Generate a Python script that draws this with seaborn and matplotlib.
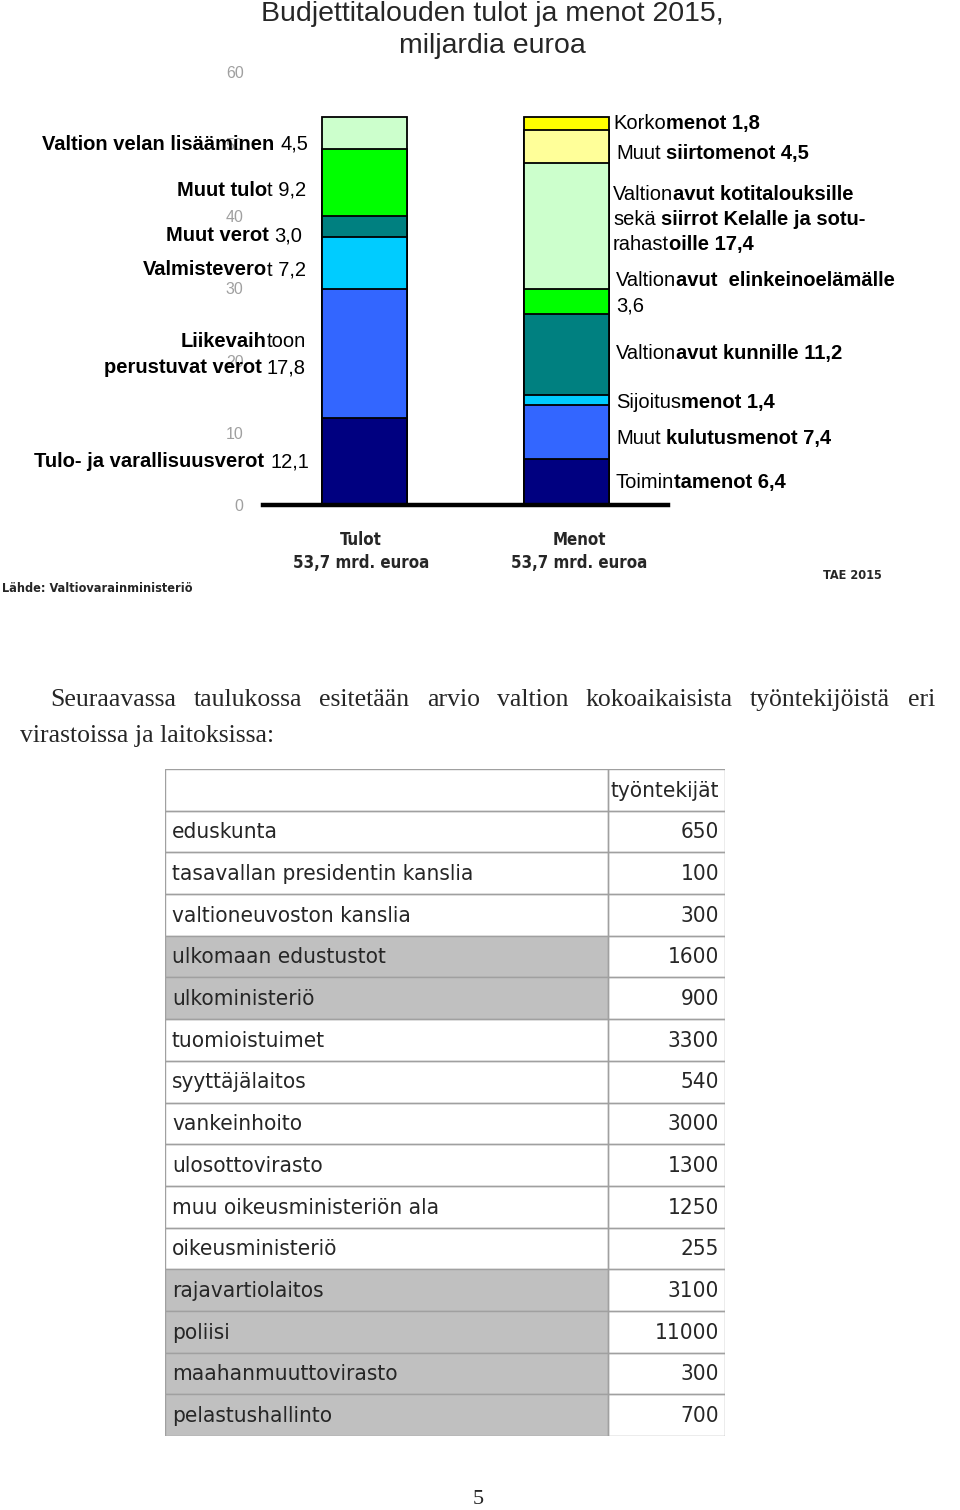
import os
import matplotlib
matplotlib.use("Agg")
import matplotlib.pyplot as plt
from matplotlib import font_manager as fm
from matplotlib.font_manager import FontProperties
from matplotlib.patches import Rectangle
import numpy as np
import pandas as pd
import seaborn as sns

# ---------------- data ----------------
bar_names = ["Tulot", "Menot"]
income_values = [12.1, 17.8, 7.2, 3.0, 9.2, 4.5]
income_colors = ["#000080", "#3366FF", "#00CCFF", "#008080", "#00FF00", "#CCFFCC"]
expense_values = [6.4, 7.4, 1.4, 11.2, 3.6, 17.4, 4.5, 1.8]
expense_colors = ["#000080", "#3366FF", "#00CCFF", "#008080", "#00FF00", "#CCFFCC",
                  "#FFFF99", "#FFFF00"]
y_ticks = [0, 10, 20, 30, 40, 50, 60]

income_labels = [
    [("Tulo- ja varallisuusverot", "bold"), (" 12,1", "normal")],
    [("perustuvat verot", "bold"), (" 17,8", "normal")],
    [("Liikevaih", "bold"), ("toon", "normal")],
    [("Valmistevero", "bold"), ("t 7,2", "normal")],
    [("Muut verot", "bold"), (" 3,0", "normal")],
    [("Muut tulo", "bold"), ("t 9,2", "normal")],
    [("Valtion velan lisääminen", "bold"), (" 4,5", "normal")],
]
income_label_pos = [(309, 467), (306, 373), (306, 347), (306, 275), (302, 241),
                    (306, 196), (308, 150)]

expense_labels = [
    [("Toimin", "normal"), ("tamenot 6,4", "bold")],
    [("Muut", "normal"), (" kulutusmenot 7,4", "bold")],
    [("Sijoitus", "normal"), ("menot 1,4", "bold")],
    [("Valtion", "normal"), ("avut kunnille 11,2", "bold")],
    [("3,6", "normal")],
    [("Valtion", "normal"), ("avut  elinkeinoelämälle", "bold")],
    [("rahast", "normal"), ("oille 17,4", "bold")],
    [("sekä", "normal"), (" siirrot Kelalle ja sotu-", "bold")],
    [("Valtion", "normal"), ("avut kotitalouksille", "bold")],
    [("Muut", "normal"), (" siirtomenot 4,5", "bold")],
    [("Korko", "normal"), ("menot 1,8", "bold")],
]
expense_label_pos = [(616, 488), (616, 444), (616, 408), (616, 359), (616, 311),
                     (616, 286), (613, 250), (613, 225), (613, 200), (616, 159), (613, 129)]

title_lines = ["Budjettitalouden tulot ja menot 2015,", "miljardia euroa"]
bar_captions = ["Tulot\n53,7 mrd. euroa", "Menot\n53,7 mrd. euroa"]
source_text = "Lähde: Valtiovarainministeriö"
tae_text = "TAE 2015"

paragraph_line1 = "Seuraavassa taulukossa esitetään arvio valtion kokoaikaisista työntekijöistä eri"
paragraph_line2 = "virastoissa ja laitoksissa:"

table_header = "työntekijät"
table_names = ["eduskunta", "tasavallan presidentin kanslia", "valtioneuvoston kanslia",
               "ulkomaan edustustot", "ulkoministeriö", "tuomioistuimet", "syyttäjälaitos",
               "vankeinhoito", "ulosottovirasto", "muu oikeusministeriön ala",
               "oikeusministeriö", "rajavartiolaitos", "poliisi", "maahanmuuttovirasto",
               "pelastushallinto"]
table_values = [650, 100, 300, 1600, 900, 3300, 540, 3000, 1300, 1250, 255, 3100,
                11000, 300, 700]
table_shaded = [False, False, False, True, True, False, False, False, False, False,
                False, True, True, True, True]
page_number = "5"

# ---------------- setup ----------------
sns.set_theme(style="white")
plt.rcParams["font.family"] = ["Liberation Sans", "DejaVu Sans"]

SANS = "Liberation Sans"
SERIF = "Liberation Serif"


def find_font(candidates, default_family, weight="normal"):
    files = {os.path.basename(f.fname).lower(): f.fname for f in fm.fontManager.ttflist}
    for c in candidates:
        if c in files:
            return FontProperties(fname=files[c])
    return FontProperties(family=default_family, weight=weight)


narrow_reg = find_font(["liberationsansnarrow-regular.ttf", "dejavusanscondensed.ttf",
                        "robotocondensed-regular.ttf"], "Roboto")
narrow_bold = find_font(["liberationsansnarrow-bold.ttf", "dejavusanscondensed-bold.ttf",
                         "robotocondensed-bold.ttf"], "Roboto", "bold")

W, H = 960, 1510
fig = plt.figure(figsize=(W / 100, H / 100), dpi=100)
fig.patch.set_facecolor("white")


def P(x, y):
    return x / W, 1 - y / H


renderer = fig.canvas.get_renderer()


def text_w(s, weight="normal", size=14.5, family=SANS, fp=None):
    if fp is not None:
        f = fp.copy()
        f.set_size(size)
        t = fig.text(0, 0, s, fontproperties=f)
    else:
        t = fig.text(0, 0, s, fontsize=size, fontweight=weight, family=family)
    w = t.get_window_extent(renderer).width
    t.remove()
    return w


def fit_size(s, target_px, fp, max_size):
    w10 = text_w(s, size=10, fp=fp)
    return min(max_size, 10 * target_px / w10)


def fp_sized(fp, size):
    f = fp.copy()
    f.set_size(size)
    return f


def space_w(weight, size, family):
    return text_w("a a", weight, size, family) - text_w("aa", weight, size, family)


def mixed(pieces, x, y, ha="left", size=14.5, family=SANS):
    items = []
    total = 0
    for s, wgt in pieces:
        lead = len(s) - len(s.lstrip(" "))
        s2 = s.strip(" ")
        gap = lead * space_w(wgt, size, family)
        w = text_w(s2, wgt, size, family)
        items.append((s2, wgt, gap, w))
        total += gap + w
    cur = x - total if ha == "right" else x
    for s2, wgt, gap, w in items:
        cur += gap
        fig.text(*P(cur, y), s2, fontsize=size, fontweight=wgt, family=family,
                 ha="left", va="baseline", color="black")
        cur += w


# ---------------- stacked bar chart ----------------
ax = fig.add_axes([263 / W, 1 - 505 / H, (668 - 263) / W, (505 - 72) / H])


def draw_stack(name, values, colors):
    cum = np.cumsum(values)
    for c, col in zip(cum[::-1], colors[::-1]):
        df = pd.DataFrame({"bar": [name], "value": [c]})
        sns.barplot(data=df, x="bar", y="value", order=bar_names, color=col,
                    saturation=1, width=0.42, edgecolor="black", linewidth=1.3,
                    errorbar=None, ax=ax)


draw_stack("Tulot", income_values, income_colors)
draw_stack("Menot", expense_values, expense_colors)

ax.set_xlim(-0.5, 1.5)
ax.set_ylim(0, 60)
ax.set_xticks([])
ax.set_xlabel("")
ax.set_ylabel("")
ax.set_yticks(y_ticks)
ax.set_yticklabels([str(t) for t in y_ticks], color="#a0a0a0", fontsize=11.5, family=SANS)
ax.tick_params(axis="y", length=0, pad=14)
for s in ["top", "right", "left"]:
    ax.spines[s].set_visible(False)
ax.spines["bottom"].set_color("black")
ax.spines["bottom"].set_linewidth(3.2)
ax.set_facecolor("white")
ax.patch.set_alpha(0)

# title
fig.text(*P(492, 14), title_lines[0], fontsize=20.5, family=SANS, ha="center", va="center")
fig.text(*P(492, 46), title_lines[1], fontsize=20.5, family=SANS, ha="center", va="center")

# segment labels
for pieces, (x, y) in zip(income_labels, income_label_pos):
    mixed(pieces, x, y, ha="right")
for pieces, (x, y) in zip(expense_labels, expense_label_pos):
    mixed(pieces, x, y, ha="left")

# bar captions
cap_size = fit_size("53,7 mrd. euroa", 136, narrow_bold, 17)
for cap, cx in zip(bar_captions, [361, 579]):
    l1, l2 = cap.split("\n")
    fig.text(*P(cx, 540), l1, fontproperties=fp_sized(narrow_bold, cap_size),
             ha="center", va="center")
    fig.text(*P(cx, 563), l2, fontproperties=fp_sized(narrow_bold, cap_size),
             ha="center", va="center")
src_size = fit_size(source_text, 188, narrow_bold, 14)
fig.text(*P(2, 589), source_text, fontproperties=fp_sized(narrow_bold, src_size),
         ha="left", va="center")
fig.text(*P(852, 575), tae_text, fontproperties=fp_sized(narrow_bold, src_size),
         ha="center", va="center")

# ---------------- paragraph ----------------
PSIZE = 18.5
words = paragraph_line1.split(" ")
widths = [text_w(w_, "normal", PSIZE, SERIF) for w_ in words]
x0, x1 = 50, 935
gap = (x1 - x0 - sum(widths)) / (len(words) - 1)
cx = x0
for w_, ww in zip(words, widths):
    fig.text(*P(cx, 706), w_, fontsize=PSIZE, family=SERIF, ha="left", va="baseline")
    cx += ww + gap
fig.text(*P(20, 742), paragraph_line2, fontsize=PSIZE, family=SERIF, ha="left",
         va="baseline")

# ---------------- table ----------------
TL, TR, TD, TT, TB = 165, 725, 608, 769, 1436
tax = fig.add_axes([TL / W, 1 - TB / H, (TR - TL) / W, (TB - TT) / H])
nrows = len(table_names) + 1
tax.set_xlim(0, TR - TL)
tax.set_ylim(nrows, 0)
tax.axis("off")
div = TD - TL
border = "#a0a0a0"
TSIZE = fit_size("tasavallan presidentin kanslia", 281, narrow_reg, 19) * 1.07
tfp = fp_sized(narrow_reg, TSIZE)
for i in range(nrows):
    if i > 0 and table_shaded[i - 1]:
        tax.add_patch(Rectangle((0, i), div, 1, facecolor="#c0c0c0", edgecolor="none"))
    tax.add_patch(Rectangle((0, i), div, 1, facecolor="none", edgecolor=border, lw=1))
    tax.add_patch(Rectangle((div, i), TR - TL - div, 1, facecolor="none",
                            edgecolor=border, lw=1))
tax.text(TR - TL - 6, 0.52, table_header, fontproperties=tfp, ha="right", va="center")
for i, (name, val) in enumerate(zip(table_names, table_values), start=1):
    tax.text(7, i + 0.52, name, fontproperties=tfp, ha="left", va="center")
    tax.text(TR - TL - 6, i + 0.52, str(val), fontproperties=tfp, ha="right", va="center")

# page number
fig.text(*P(478, 1499), page_number, fontsize=16, family=SERIF, ha="center", va="center")

fig.savefig("out.png", dpi=100, facecolor="white")
